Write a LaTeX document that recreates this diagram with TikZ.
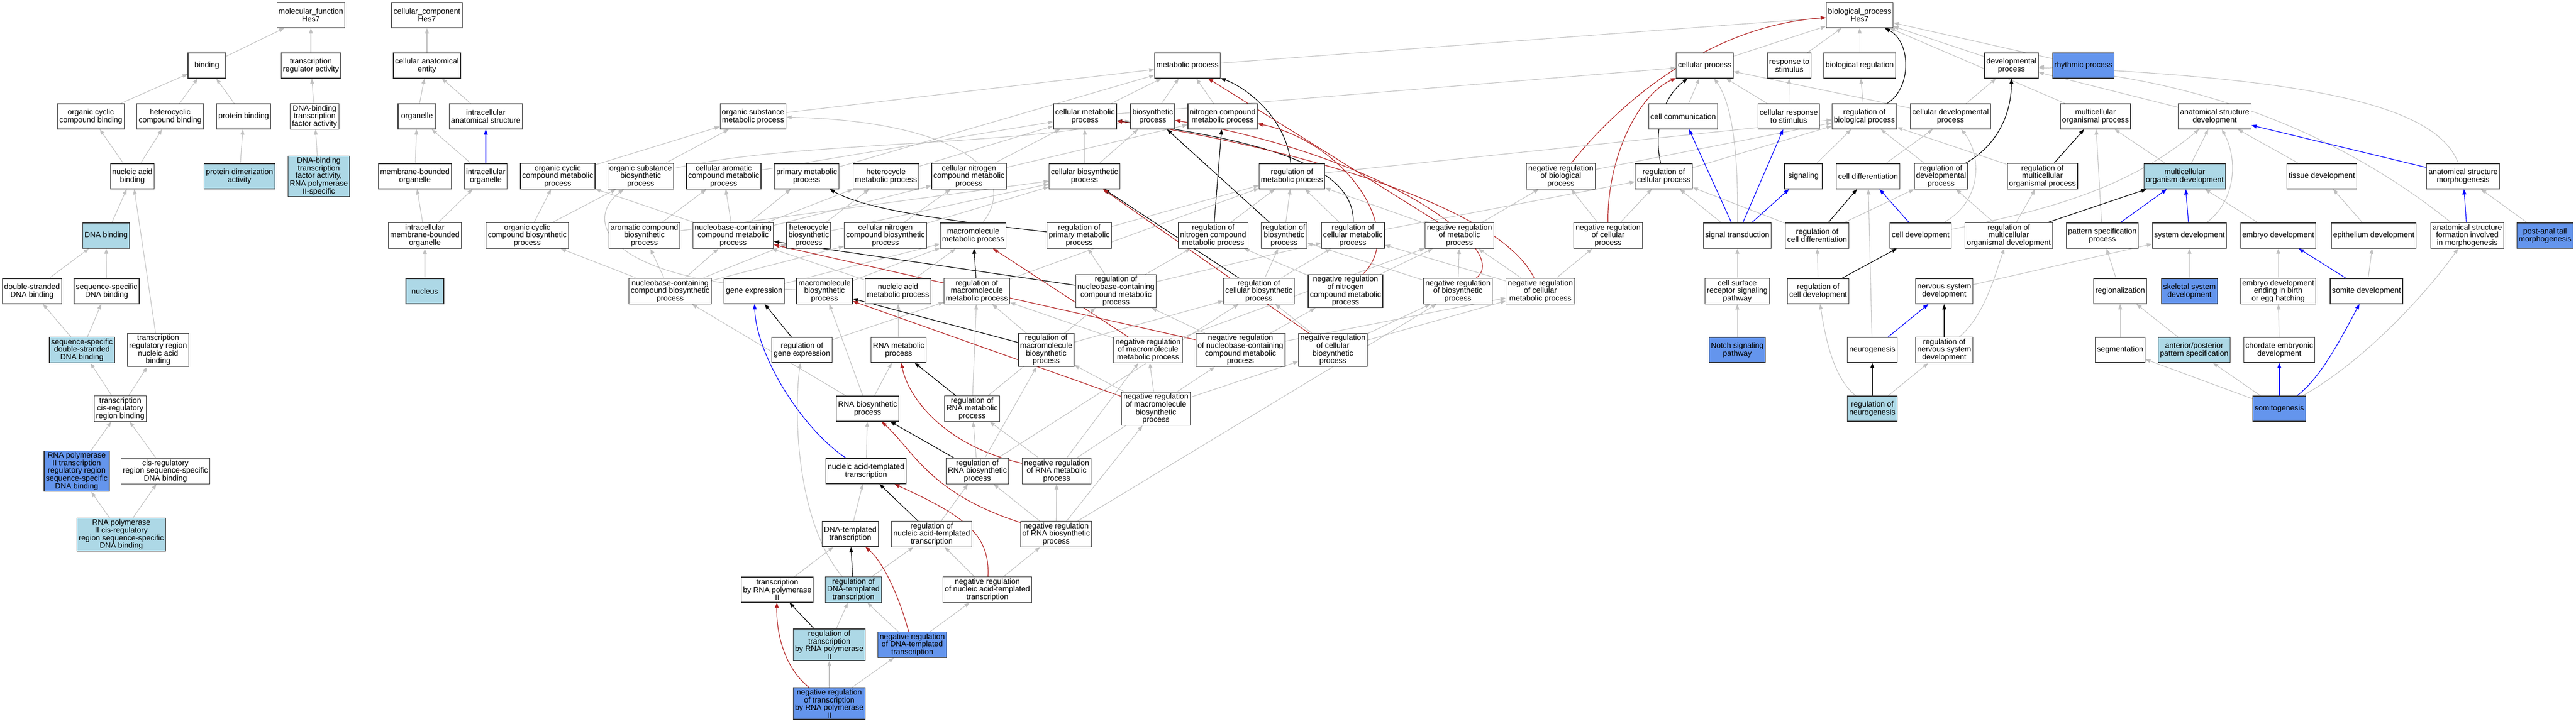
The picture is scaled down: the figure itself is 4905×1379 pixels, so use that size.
\documentclass[tikz,border=0pt]{standalone}
\usepackage{fontspec}
\setmainfont{Liberation Sans}
\usepackage{tikz}
\usetikzlibrary{arrows.meta, backgrounds}
\definecolor{isagray}{RGB}{192,192,192}
\definecolor{firebrick}{RGB}{178,34,34}
\definecolor{hitblue}{RGB}{173,216,230}
\definecolor{keyblue}{RGB}{100,149,237}
\tikzstyle{term} = [rectangle, draw=black!80, line width=0.9pt, fill=white, minimum width=54pt, minimum height=36pt, inner xsep=2.5pt, inner ysep=2pt, align=center, font=\fontsize{11}{11}\selectfont]
\tikzstyle{hitterm} = [term, fill=hitblue]
\tikzstyle{keyterm} = [term, fill=keyblue]
\tikzstyle{isa} = [draw=isagray, line width=0.8pt, -{Triangle[length=7.5pt, width=5.5pt]}]
\tikzstyle{regs} = [isa, draw=black, line width=0.9pt]
\tikzstyle{partof} = [isa, draw=blue, line width=0.9pt]
\tikzstyle{negregs} = [isa, draw=firebrick, line width=0.9pt]
\begin{document}
\begin{tikzpicture}[x=0.75pt, y=-0.75pt]
\useasboundingbox (0,0) rectangle (4905,1379);
\node (mf) [term] at (592,29) {molecular\_function\\Hes7};
\node (bind) [term] at (394,125) {binding};
\node (tra) [term] at (592,125) {transcription\\regulator activity};
\node (occb) [term] at (173,222) {organic cyclic\\compound binding};
\node (hcb) [term] at (324,222) {heterocyclic\\compound binding};
\node (pb) [term] at (464,222) {protein binding};
\node (dbtf) [term] at (599,222) {DNA-binding\\transcription\\factor activity};
\node (nab) [term] at (252,336) {nucleic acid\\binding};
\node (pda) [hitterm] at (456,336) {protein dimerization\\activity};
\node (dbtf2) [hitterm] at (607,336) {DNA-binding\\transcription\\factor activity,\\RNA polymerase\\II-specific};
\node (dnab) [hitterm] at (202,449) {DNA binding};
\node (dsdb) [term] at (61,555) {double-stranded\\DNA binding};
\node (ssdb) [term] at (203,555) {sequence-specific\\DNA binding};
\node (ssds) [hitterm] at (156,667) {sequence-specific\\double-stranded\\DNA binding};
\node (trnab) [term] at (301,667) {transcription\\regulatory region\\nucleic acid\\binding};
\node (tcrb) [term] at (229,779) {transcription\\cis-regulatory\\region binding};
\node (rp2tr) [keyterm] at (146,898) {RNA polymerase\\II transcription\\regulatory region\\sequence-specific\\DNA binding};
\node (crsdb) [term] at (315,898) {cis-regulatory\\region sequence-specific\\DNA binding};
\node (rp2cr) [hitterm] at (231,1019) {RNA polymerase\\II cis-regulatory\\region sequence-specific\\DNA binding};
\node (cc) [term] at (813,29) {cellular\_component\\Hes7};
\node (cae) [term] at (813,125) {cellular anatomical\\entity};
\node (org) [term] at (794,222) {organelle};
\node (ias) [term] at (925,222) {intracellular\\anatomical structure};
\node (mbo) [term] at (790,336) {membrane-bounded\\organelle};
\node (io) [term] at (925,336) {intracellular\\organelle};
\node (imbo) [term] at (809,449) {intracellular\\membrane-bounded\\organelle};
\node (nuc) [hitterm] at (809,555) {nucleus};
\node (bp) [term] at (3541,29) {biological\_process\\Hes7};
\node (mp) [term] at (2261,125) {metabolic process};
\node (cp) [term] at (3246,125) {cellular process};
\node (rts) [term] at (3407,125) {response to\\stimulus};
\node (breg) [term] at (3541,125) {biological regulation};
\node (dev) [term] at (3830,125) {developmental\\process};
\node (rhy) [keyterm] at (3967,125) {rhythmic process};
\node (osmp) [term] at (1434,222) {organic substance\\metabolic process};
\node (cmp) [term] at (2066,222) {cellular metabolic\\process};
\node (bs) [term] at (2195,222) {biosynthetic\\process};
\node (ncmp) [term] at (2328,222) {nitrogen compound\\metabolic process};
\node (ccom) [term] at (3205,222) {cell communication};
\node (crts) [term] at (3406,222) {cellular response\\to stimulus};
\node (rbio) [term] at (3550,222) {regulation of\\biological process};
\node (cdev) [term] at (3714,222) {cellular developmental\\process};
\node (mop) [term] at (3990,222) {multicellular\\organismal process};
\node (asd) [term] at (4217,222) {anatomical structure\\development};
\node (occmp) [term] at (1062,336) {organic cyclic\\compound metabolic\\process};
\node (osbp) [term] at (1220,336) {organic substance\\biosynthetic\\process};
\node (cacmp) [term] at (1378,336) {cellular aromatic\\compound metabolic\\process};
\node (pmp) [term] at (1536,336) {primary metabolic\\process};
\node (hmp) [term] at (1687,336) {heterocycle\\metabolic process};
\node (cncmp) [term] at (1845,336) {cellular nitrogen\\compound metabolic\\process};
\node (cbp) [term] at (2065,336) {cellular biosynthetic\\process};
\node (rmp) [term] at (2460,336) {regulation of\\metabolic process};
\node (nrbio) [term] at (2972,336) {negative regulation\\of biological\\process};
\node (rcp) [term] at (3168,336) {regulation of\\cellular process};
\node (sig) [term] at (3434,336) {signaling};
\node (cdiff) [term] at (3557,336) {cell differentiation};
\node (rdev) [term] at (3696,336) {regulation of\\developmental\\process};
\node (rmop) [term] at (3889,336) {regulation of\\multicellular\\organismal process};
\node (mod) [hitterm] at (4160,336) {multicellular\\organism development};
\node (tdev) [term] at (4421,336) {tissue development};
\node (asm) [term] at (4690,336) {anatomical structure\\morphogenesis};
\node (occbp) [term] at (1004,449) {organic cyclic\\compound biosynthetic\\process};
\node (acbp) [term] at (1227,449) {aromatic compound\\biosynthetic\\process};
\node (nccmp) [term] at (1396,449) {nucleobase-containing\\compound metabolic\\process};
\node (hbp) [term] at (1540,449) {heterocycle\\biosynthetic\\process};
\node (cncbp) [term] at (1686,449) {cellular nitrogen\\compound biosynthetic\\process};
\node (mmp) [term] at (1853,449) {macromolecule\\metabolic process};
\node (rpmp) [term] at (2055,449) {regulation of\\primary metabolic\\process};
\node (rncmp) [term] at (2310,449) {regulation of\\nitrogen compound\\metabolic process};
\node (rbs) [term] at (2445,449) {regulation of\\biosynthetic\\process};
\node (rcmp) [term] at (2576,449) {regulation of\\cellular metabolic\\process};
\node (nrmp) [term] at (2779,449) {negative regulation\\of metabolic\\process};
\node (nrcp) [term] at (3062,449) {negative regulation\\of cellular\\process};
\node (st) [term] at (3308,449) {signal transduction};
\node (rcdiff) [term] at (3460,449) {regulation of\\cell differentiation};
\node (cdevt) [term] at (3657,449) {cell development};
\node (rmod) [term] at (3825,449) {regulation of\\multicellular\\organismal development};
\node (psp) [term] at (4003,449) {pattern specification\\process};
\node (sysd) [term] at (4169,449) {system development};
\node (emb) [term] at (4338,449) {embryo development};
\node (epi) [term] at (4520,449) {epithelium development};
\node (asf) [term] at (4698,449) {anatomical structure\\formation involved\\in morphogenesis};
\node (pat) [keyterm] at (4846,449) {post-anal tail\\morphogenesis};
\node (nccbp) [term] at (1276,555) {nucleobase-containing\\compound biosynthetic\\process};
\node (ge) [term] at (1436,555) {gene expression};
\node (mbp) [term] at (1570,555) {macromolecule\\biosynthetic\\process};
\node (namp) [term] at (1710,555) {nucleic acid\\metabolic process};
\node (rmmp) [term] at (1860,555) {regulation of\\macromolecule\\metabolic process};
\node (rnccmp) [term] at (2125,555) {regulation of\\nucleobase-containing\\compound metabolic\\process};
\node (rcbp) [term] at (2397,555) {regulation of\\cellular biosynthetic\\process};
\node (nrncmp) [term] at (2562,555) {negative regulation\\of nitrogen\\compound metabolic\\process};
\node (nrbs) [term] at (2776,555) {negative regulation\\of biosynthetic\\process};
\node (nrcmp) [term] at (2933,555) {negative regulation\\of cellular\\metabolic process};
\node (csrs) [term] at (3308,555) {cell surface\\receptor signaling\\pathway};
\node (rcdevt) [term] at (3462,555) {regulation of\\cell development};
\node (nsd) [term] at (3702,555) {nervous system\\development};
\node (rgn) [term] at (4037,555) {regionalization};
\node (ssd) [keyterm] at (4169,555) {skeletal system\\development};
\node (embb) [term] at (4338,555) {embryo development\\ending in birth\\or egg hatching};
\node (somd) [term] at (4506,555) {somite development};
\node (rge) [term] at (1527,667) {regulation of\\gene expression};
\node (rnamp) [term] at (1711,667) {RNA metabolic\\process};
\node (rmbp) [term] at (1992,667) {regulation of\\macromolecule\\biosynthetic\\process};
\node (nrmmp) [term] at (2186,667) {negative regulation\\of macromolecule\\metabolic process};
\node (nrnccmp) [term] at (2362,667) {negative regulation\\of nucleobase-containing\\compound metabolic\\process};
\node (nrcbp) [term] at (2538,667) {negative regulation\\of cellular\\biosynthetic\\process};
\node (notch) [keyterm] at (3308,667) {Notch signaling\\pathway};
\node (neur) [term] at (3565,667) {neurogenesis};
\node (rnsd) [term] at (3702,667) {regulation of\\nervous system\\development};
\node (seg) [term] at (4037,667) {segmentation};
\node (aps) [hitterm] at (4178,667) {anterior/posterior\\pattern specification};
\node (ced) [term] at (4340,667) {chordate embryonic\\development};
\node (rnabp) [term] at (1652,779) {RNA biosynthetic\\process};
\node (rrnamp) [term] at (1851,779) {regulation of\\RNA metabolic\\process};
\node (nrmbp) [term] at (2201,779) {negative regulation\\of macromolecule\\biosynthetic\\process};
\node (rneur) [hitterm] at (3565,779) {regulation of\\neurogenesis};
\node (somi) [keyterm] at (4340,779) {somitogenesis};
\node (natt) [term] at (1649,898) {nucleic acid-templated\\transcription};
\node (rrnabp) [term] at (1861,898) {regulation of\\RNA biosynthetic\\process};
\node (nrrnamp) [term] at (2012,898) {negative regulation\\of RNA metabolic\\process};
\node (dtt) [term] at (1619,1018) {DNA-templated\\transcription};
\node (rnatt) [term] at (1774,1018) {regulation of\\nucleic acid-templated\\transcription};
\node (nrrnabp) [term] at (2011,1018) {negative regulation\\of RNA biosynthetic\\process};
\node (trp) [term] at (1480,1124) {transcription\\by RNA polymerase\\II};
\node (rdtt) [hitterm] at (1625,1124) {regulation of\\DNA-templated\\transcription};
\node (nrnatt) [term] at (1880,1124) {negative regulation\\of nucleic acid-templated\\transcription};
\node (rtrp) [hitterm] at (1579,1229) {regulation of\\transcription\\by RNA polymerase\\II};
\node (nrdtt) [keyterm] at (1737,1229) {negative regulation\\of DNA-templated\\transcription};
\node (nrtrp) [keyterm] at (1579,1341) {negative regulation\\of transcription\\by RNA polymerase\\II};
\begin{pgfonlayer}{background}
\fill [white] (0,0) rectangle (4905,1379);
\draw [isa] (bind) -- (mf);
\draw [isa] (tra) -- (mf);
\draw [isa] (occb) -- (bind);
\draw [isa] (hcb) -- (bind);
\draw [isa] (pb) -- (bind);
\draw [isa] (dbtf) -- (tra);
\draw [isa] (nab) -- (occb);
\draw [isa] (nab) -- (hcb);
\draw [isa] (pda) -- (pb);
\draw [isa] (dbtf2) -- (dbtf);
\draw [isa] (dnab) -- (nab);
\draw [isa] (dsdb) -- (dnab);
\draw [isa] (ssdb) -- (dnab);
\draw [isa] (ssds) -- (dsdb);
\draw [isa] (ssds) -- (ssdb);
\draw [isa] (trnab) -- (nab);
\draw [isa] (tcrb) -- (ssds);
\draw [isa] (tcrb) -- (trnab);
\draw [isa] (rp2tr) -- (tcrb);
\draw [isa] (crsdb) -- (tcrb);
\draw [isa] (rp2cr) -- (rp2tr);
\draw [isa] (rp2cr) -- (crsdb);
\draw [isa] (cae) -- (cc);
\draw [isa] (org) -- (cae);
\draw [isa] (ias) -- (cae);
\draw [isa] (mbo) -- (org);
\draw [isa] (io) -- (org);
\draw [partof] (io) -- (ias);
\draw [isa] (imbo) -- (mbo);
\draw [isa] (imbo) -- (io);
\draw [isa] (nuc) -- (imbo);
\draw [isa] (mp) -- (bp);
\draw [isa] (cp) -- (bp);
\draw [isa] (rts) -- (bp);
\draw [isa] (breg) -- (bp);
\draw [isa] (dev) -- (bp);
\draw [isa] (rhy) -- (bp);
\draw [isa] (mop) -- (bp);
\draw [regs] (rbio) .. controls (3640,170) and (3640,80) .. (bp);
\draw [negregs] (nrbio) .. controls (3080,200) and (3250,50) .. (bp);
\draw [isa] (ccom) -- (cp);
\draw [isa] (crts) -- (cp);
\draw [isa] (cdev) -- (cp);
\draw [isa] (cmp) -- (cp);
\draw [isa] (st) .. controls (3310,300) and (3300,200) .. (cp);
\draw [negregs] (nrcp) .. controls (3060,300) and (3120,180) .. (cp);
\draw [regs] (rcp) .. controls (3150,260) and (3160,190) .. (cp);
\draw [isa] (crts) -- (rts);
\draw [isa] (rbio) -- (breg);
\draw [isa] (cdev) -- (dev);
\draw [isa] (asd) -- (dev);
\draw [isa] (asm) .. controls (4640,200) and (4400,150) .. (dev);
\draw [isa] (asf) .. controls (4550,330) and (4300,160) .. (dev);
\draw [regs] (rdev) .. controls (3800,280) and (3830,220) .. (dev);
\draw [isa] (cdiff) -- (cdev);
\draw [isa] (cdevt) .. controls (3780,380) and (3770,290) .. (cdev);
\draw [partof] (cdevt) -- (cdiff);
\draw [isa] (cdevt) .. controls (3900,400) and (4050,360) .. (asd);
\draw [isa] (nrbio) -- (rbio);
\draw [isa] (rmp) -- (rbio);
\draw [isa] (rcp) -- (rbio);
\draw [isa] (sig) -- (rbio);
\draw [isa] (rdev) -- (rbio);
\draw [isa] (rmop) -- (rbio);
\draw [regs] (rmop) -- (mop);
\draw [isa] (psp) -- (mop);
\draw [isa] (mod) -- (mop);
\draw [isa] (mod) -- (asd);
\draw [isa] (sysd) .. controls (4260,380) and (4260,300) .. (asd);
\draw [isa] (tdev) -- (asd);
\draw [partof] (asm) -- (asd);
\draw [partof] (sysd) -- (mod);
\draw [isa] (emb) -- (mod);
\draw [partof] (psp) -- (mod);
\draw [regs] (rmod) -- (mod);
\draw [isa] (rmod) -- (rdev);
\draw [isa] (rmod) -- (rmop);
\draw [regs] (rcdiff) -- (cdiff);
\draw [isa] (rcdiff) -- (rcp);
\draw [isa] (rcdiff) -- (rdev);
\draw [partof] (st) -- (ccom);
\draw [partof] (st) -- (crts);
\draw [partof] (st) -- (sig);
\draw [isa] (st) -- (rcp);
\draw [isa] (csrs) -- (st);
\draw [isa] (notch) -- (csrs);
\draw [isa] (rcdevt) -- (rcdiff);
\draw [regs] (rcdevt) -- (cdevt);
\draw [isa] (nsd) -- (sysd);
\draw [isa] (neur) -- (cdiff);
\draw [partof] (neur) -- (nsd);
\draw [regs] (rnsd) -- (nsd);
\draw [isa] (rnsd) .. controls (3780,600) and (3800,520) .. (rmod);
\draw [regs] (rneur) -- (neur);
\draw [isa] (rneur) -- (rnsd);
\draw [isa] (rneur) .. controls (3490,720) and (3475,640) .. (rcdevt);
\draw [isa] (epi) -- (tdev);
\draw [isa] (pat) -- (asm);
\draw [partof] (asf) -- (asm);
\draw [isa] (ssd) -- (sysd);
\draw [isa] (embb) -- (emb);
\draw [partof] (somd) -- (emb);
\draw [isa] (somd) -- (epi);
\draw [isa] (rgn) -- (psp);
\draw [isa] (seg) -- (rgn);
\draw [isa] (aps) -- (rgn);
\draw [isa] (ced) -- (embb);
\draw [isa] (somi) -- (seg);
\draw [isa] (somi) -- (aps);
\draw [partof] (somi) -- (ced);
\draw [partof] (somi) .. controls (4420,720) and (4460,640) .. (somd);
\draw [isa] (somi) .. controls (4500,690) and (4620,560) .. (asf);
\draw [isa] (nrcp) -- (rcp);
\draw [isa] (nrcp) -- (nrbio);
\draw [isa] (nrmp) -- (nrbio);
\draw [isa] (nrcmp) -- (nrcp);
\draw [isa] (osmp) -- (mp);
\draw [isa] (cmp) -- (mp);
\draw [isa] (bs) -- (mp);
\draw [isa] (ncmp) -- (mp);
\draw [isa] (pmp) -- (mp);
\draw [regs] (rmp) .. controls (2450,230) and (2380,170) .. (mp);
\draw [negregs] (nrmp) -- (mp);
\draw [isa] (occmp) -- (osmp);
\draw [isa] (osbp) -- (osmp);
\draw [isa] (mmp) .. controls (1950,320) and (1800,230) .. (osmp);
\draw [isa] (osbp) .. controls (1500,270) and (1900,280) .. (bs);
\draw [isa] (cacmp) -- (cmp);
\draw [isa] (hmp) -- (cmp);
\draw [isa] (cncmp) -- (cmp);
\draw [isa] (cncmp) -- (ncmp);
\draw [isa] (cbp) -- (cmp);
\draw [isa] (cbp) -- (bs);
\draw [regs] (rcmp) .. controls (2580,320) and (2420,270) .. (cmp);
\draw [negregs] (nrcmp) .. controls (2850,380) and (2400,270) .. (cmp);
\draw [regs] (rbs) -- (bs);
\draw [negregs] (nrbs) .. controls (2880,480) and (2650,300) .. (bs);
\draw [regs] (rncmp) -- (ncmp);
\draw [negregs] (nrncmp) .. controls (2680,440) and (2560,270) .. (ncmp);
\draw [regs] (rcbp) -- (cbp);
\draw [negregs] (nrcbp) -- (cbp);
\draw [regs] (rpmp) .. controls (1800,420) and (1650,400) .. (pmp);
\draw [isa] (occbp) -- (occmp);
\draw [isa] (occbp) -- (osbp);
\draw [isa] (acbp) -- (cacmp);
\draw [isa] (acbp) -- (cbp);
\draw [isa] (nccmp) -- (cacmp);
\draw [isa] (nccmp) -- (pmp);
\draw [isa] (nccmp) -- (occmp);
\draw [isa] (nccmp) -- (hmp);
\draw [isa] (nccmp) -- (cncmp);
\draw [isa] (hbp) -- (hmp);
\draw [isa] (hbp) -- (cbp);
\draw [isa] (cncbp) -- (cncmp);
\draw [isa] (cncbp) -- (cbp);
\draw [isa] (rpmp) -- (rmp);
\draw [isa] (rncmp) -- (rmp);
\draw [isa] (rbs) -- (rmp);
\draw [isa] (rcmp) -- (rmp);
\draw [isa] (rmmp) -- (rmp);
\draw [isa] (nrmp) -- (rmp);
\draw [isa] (rcmp) -- (rcp);
\draw [isa] (nccbp) -- (occbp);
\draw [isa] (nccbp) -- (acbp);
\draw [isa] (nccbp) -- (nccmp);
\draw [isa] (nccbp) -- (hbp);
\draw [isa] (nccbp) -- (cncbp);
\draw [isa] (ge) -- (mmp);
\draw [isa] (mbp) -- (mmp);
\draw [isa] (mbp) .. controls (1150,535) and (1110,420) .. (osbp);
\draw [isa] (namp) -- (nccmp);
\draw [isa] (namp) -- (mmp);
\draw [regs] (rmmp) -- (mmp);
\draw [regs] (rnccmp) -- (nccmp);
\draw [isa] (rnccmp) -- (rpmp);
\draw [isa] (rnccmp) -- (rncmp);
\draw [isa] (rnccmp) -- (rcmp);
\draw [isa] (rcbp) -- (rbs);
\draw [isa] (rcbp) -- (rcmp);
\draw [isa] (nrncmp) -- (rncmp);
\draw [isa] (nrncmp) -- (nrmp);
\draw [isa] (nrbs) -- (nrmp);
\draw [isa] (nrbs) -- (rbs);
\draw [isa] (nrcmp) -- (rcmp);
\draw [isa] (nrcmp) -- (nrmp);
\draw [regs] (rge) -- (ge);
\draw [isa] (rge) -- (rmmp);
\draw [isa] (rnamp) -- (namp);
\draw [regs] (rmbp) -- (mbp);
\draw [isa] (rmbp) -- (rmmp);
\draw [isa] (rmbp) -- (rcbp);
\draw [negregs] (nrmmp) -- (mmp);
\draw [isa] (nrmmp) -- (rmmp);
\draw [isa] (nrmmp) -- (nrmp);
\draw [negregs] (nrnccmp) -- (nccmp);
\draw [isa] (nrnccmp) -- (rnccmp);
\draw [isa] (nrnccmp) -- (nrncmp);
\draw [isa] (nrnccmp) -- (nrcmp);
\draw [isa] (nrcbp) -- (rcbp);
\draw [isa] (nrcbp) -- (nrbs);
\draw [isa] (nrcbp) -- (nrcmp);
\draw [isa] (rnabp) -- (rnamp);
\draw [isa] (rnabp) -- (nccbp);
\draw [isa] (rnabp) -- (mbp);
\draw [regs] (rrnamp) -- (rnamp);
\draw [isa] (rrnamp) -- (rmmp);
\draw [isa] (rrnamp) -- (rnccmp);
\draw [negregs] (nrmbp) -- (mbp);
\draw [isa] (nrmbp) -- (rmbp);
\draw [isa] (nrmbp) -- (nrmmp);
\draw [isa] (nrmbp) -- (nrcbp);
\draw [isa] (natt) -- (rnabp);
\draw [partof] (natt) .. controls (1530,820) and (1440,680) .. (ge);
\draw [regs] (rrnabp) -- (rnabp);
\draw [isa] (rrnabp) -- (rrnamp);
\draw [isa] (rrnabp) -- (rmbp);
\draw [isa] (rrnabp) -- (rcbp);
\draw [negregs] (nrrnamp) .. controls (1800,850) and (1730,760) .. (rnamp);
\draw [isa] (nrrnamp) -- (rrnamp);
\draw [isa] (nrrnamp) -- (nrmmp);
\draw [isa] (nrrnamp) -- (nrnccmp);
\draw [isa] (dtt) -- (natt);
\draw [regs] (rnatt) -- (natt);
\draw [isa] (rnatt) -- (rrnabp);
\draw [negregs] (nrrnabp) .. controls (1770,940) and (1740,860) .. (rnabp);
\draw [isa] (nrrnabp) -- (rrnabp);
\draw [isa] (nrrnabp) -- (nrrnamp);
\draw [isa] (nrrnabp) -- (nrmbp);
\draw [isa] (nrrnabp) -- (nrbs);
\draw [isa] (trp) -- (dtt);
\draw [regs] (rdtt) -- (dtt);
\draw [isa] (rdtt) -- (rnatt);
\draw [isa] (rdtt) .. controls (1520,1000) and (1510,800) .. (rge);
\draw [negregs] (nrnatt) .. controls (1885,1020) and (1840,985) .. (natt);
\draw [isa] (nrnatt) -- (rnatt);
\draw [isa] (nrnatt) -- (nrrnabp);
\draw [regs] (rtrp) -- (trp);
\draw [isa] (rtrp) -- (rdtt);
\draw [negregs] (nrdtt) .. controls (1710,1130) and (1680,1070) .. (dtt);
\draw [isa] (nrdtt) -- (rdtt);
\draw [isa] (nrdtt) -- (nrnatt);
\draw [negregs] (nrtrp) .. controls (1490,1270) and (1478,1200) .. (trp);
\draw [isa] (nrtrp) -- (rtrp);
\draw [isa] (nrtrp) -- (nrdtt);
\end{pgfonlayer}
\end{tikzpicture}
\end{document}
